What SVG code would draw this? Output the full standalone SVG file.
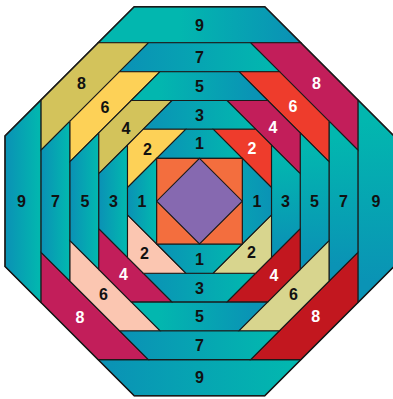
<svg xmlns="http://www.w3.org/2000/svg" width="393" height="399" viewBox="0 0 393 399">
<style>
.p{stroke:#1a1a1a;stroke-width:1.1;stroke-linejoin:miter}
.t{font-family:"Liberation Sans",Arial,sans-serif;font-weight:bold;font-size:16px;text-anchor:middle;fill:#111}
.w{fill:#fff}
.yel{fill:#fdd157}.olv{fill:#d3c35b}.org{fill:#ee3c2c}.mag{fill:#c21e5a}
.pch{fill:#fbc6b1}.lol{fill:#d8d58e}.red{fill:#c2171f}
</style>
<defs>
<linearGradient id="gLR" x1="0" y1="0" x2="1" y2="0"><stop offset="0.05" stop-color="#0a93b5"/><stop offset="0.95" stop-color="#02b7af"/></linearGradient>
<linearGradient id="gRL" x1="0" y1="0" x2="1" y2="0"><stop offset="0.2" stop-color="#02b7af"/><stop offset="0.9" stop-color="#0a93b5"/></linearGradient>
<linearGradient id="g9t" x1="0" y1="0" x2="1" y2="0"><stop offset="0.4" stop-color="#02b7af"/><stop offset="0.95" stop-color="#0a93b5"/></linearGradient>
<linearGradient id="gTB" x1="0" y1="0" x2="0" y2="1"><stop offset="0.1" stop-color="#02b7af"/><stop offset="0.9" stop-color="#0a93b5"/></linearGradient>
<linearGradient id="gDk" x1="0" y1="0" x2="1" y2="0"><stop offset="0" stop-color="#089fb4"/><stop offset="1" stop-color="#0a93b5"/></linearGradient>
</defs>

<g id="band-9">
<polygon class="p" fill="url(#g9t)" points="98.1,42.8 300.9,42.8 264.8,6.7 134.2,6.7"/>
<polygon class="p" fill="url(#gLR)" points="98.1,359.6 300.9,359.6 264.8,395.7 134.2,395.7"/>
<polygon class="p" fill="url(#gLR)" points="41.1,99.8 41.1,302.6 5,266.5 5,135.9"/>
<polygon class="p" fill="url(#gTB)" points="357.9,99.8 357.9,302.6 394,266.5 394,135.9"/>
</g>
<g id="band-8">
<polygon class="p olv" points="148.4,42.8 98.1,42.8 41.1,99.8 41.1,150.1"/>
<polygon class="p mag" points="250.6,42.8 300.9,42.8 357.9,99.8 357.9,150.1"/>
<polygon class="p mag" points="148.4,359.6 98.1,359.6 41.1,302.6 41.1,252.3"/>
<polygon class="p red" points="250.6,359.6 300.9,359.6 357.9,302.6 357.9,252.3"/>
</g>
<g id="band-7">
<polygon class="p" fill="url(#gLR)" points="119.5,71.7 279.5,71.7 250.6,42.8 148.4,42.8"/>
<polygon class="p" fill="url(#gLR)" points="119.5,330.7 279.5,330.7 250.6,359.6 148.4,359.6"/>
<polygon class="p" fill="url(#gLR)" points="70,121.2 70,281.2 41.1,252.3 41.1,150.1"/>
<polygon class="p" fill="url(#gTB)" points="329,121.2 329,281.2 357.9,252.3 357.9,150.1"/>
</g>
<g id="band-6">
<polygon class="p yel" points="160,71.7 119.5,71.7 70,121.2 70,161.7"/>
<polygon class="p org" points="239,71.7 279.5,71.7 329,121.2 329,161.7"/>
<polygon class="p pch" points="160,330.7 119.5,330.7 70,281.2 70,240.7"/>
<polygon class="p lol" points="239,330.7 279.5,330.7 329,281.2 329,240.7"/>
</g>
<g id="band-5">
<polygon class="p" fill="url(#gRL)" points="131.2,100.5 267.8,100.5 239,71.7 160,71.7"/>
<polygon class="p" fill="url(#gRL)" points="131.2,301.9 267.8,301.9 239,330.7 160,330.7"/>
<polygon class="p" fill="url(#gLR)" points="98.8,132.9 98.8,269.5 70,240.7 70,161.7"/>
<polygon class="p" fill="url(#gTB)" points="300.2,132.9 300.2,269.5 329,240.7 329,161.7"/>
</g>
<g id="band-4">
<polygon class="p olv" points="172,100.5 131.2,100.5 98.8,132.9 98.8,173.7"/>
<polygon class="p mag" points="227,100.5 267.8,100.5 300.2,132.9 300.2,173.7"/>
<polygon class="p mag" points="172,301.9 131.2,301.9 98.8,269.5 98.8,228.7"/>
<polygon class="p red" points="227,301.9 267.8,301.9 300.2,269.5 300.2,228.7"/>
</g>
<g id="band-3">
<polygon class="p" fill="url(#gLR)" points="143.3,129.2 255.7,129.2 227,100.5 172,100.5"/>
<polygon class="p" fill="url(#gLR)" points="143.3,273.2 255.7,273.2 227,301.9 172,301.9"/>
<polygon class="p" fill="url(#gLR)" points="127.5,145 127.5,257.4 98.8,228.7 98.8,173.7"/>
<polygon class="p" fill="url(#gTB)" points="271.5,145 271.5,257.4 300.2,228.7 300.2,173.7"/>
</g>
<g id="band-2">
<polygon class="p yel" points="185.9,129.2 143.3,129.2 127.5,145 127.5,187.6"/>
<polygon class="p org" points="213.1,129.2 255.7,129.2 271.5,145 271.5,187.6"/>
<polygon class="p pch" points="185.9,273.2 143.3,273.2 127.5,257.4 127.5,214.8"/>
<polygon class="p lol" points="213.1,273.2 255.7,273.2 271.5,257.4 271.5,214.8"/>
</g>
<g id="band-1">
<polygon class="p" fill="url(#gLR)" points="156.7,158.4 242.3,158.4 213.1,129.2 185.9,129.2"/>
<polygon class="p" fill="url(#gLR)" points="156.7,244 242.3,244 213.1,273.2 185.9,273.2"/>
<polygon class="p" fill="url(#gLR)" points="156.7,158.4 156.7,244 127.5,214.8 127.5,187.6"/>
<polygon class="p" fill="url(#gDk)" points="242.3,158.4 242.3,244 271.5,214.8 271.5,187.6"/>
</g>
<g id="center">
<rect class="p" x="156.7" y="158.4" width="85.6" height="85.6" fill="#f36e3e"/>
<polygon class="p" fill="#8669b0" points="199.5,158.4 242.3,201.2 199.5,244 156.7,201.2"/>
</g>
<polygon id="outline" fill="none" stroke="#1a1a1a" stroke-width="1.4" points="134.2,6.7 264.8,6.7 394,135.9 394,266.5 264.8,395.7 134.2,395.7 5,266.5 5,135.9"/>

<g id="labels">
<text class="t" x="199.5" y="30.5">9</text>
<text class="t" x="199.5" y="62.7">7</text>
<text class="t" x="199.5" y="91.7">5</text>
<text class="t" x="199.5" y="120.5">3</text>
<text class="t" x="199.5" y="149">1</text>
<text class="t" x="199.5" y="264.5">1</text>
<text class="t" x="199.5" y="293.5">3</text>
<text class="t" x="199.5" y="322">5</text>
<text class="t" x="199.5" y="351">7</text>
<text class="t" x="199.5" y="383">9</text>
<text class="t" x="21.5" y="207">9</text>
<text class="t" x="55.5" y="207">7</text>
<text class="t" x="85" y="207">5</text>
<text class="t" x="113.5" y="207">3</text>
<text class="t" x="142" y="207">1</text>
<text class="t" x="257" y="207">1</text>
<text class="t" x="285.5" y="207">3</text>
<text class="t" x="314.5" y="207">5</text>
<text class="t" x="343.5" y="207">7</text>
<text class="t" x="376" y="207">9</text>
<text class="t" x="147.5" y="154.5">2</text>
<text class="t" x="126" y="133.5">4</text>
<text class="t" x="105" y="112.7">6</text>
<text class="t" x="81.5" y="89">8</text>
<text class="t w" x="252" y="154">2</text>
<text class="t w" x="273" y="133">4</text>
<text class="t w" x="293" y="112">6</text>
<text class="t w" x="316.5" y="89">8</text>
<text class="t" x="144.5" y="258.7">2</text>
<text class="t w" x="123.5" y="279.5">4</text>
<text class="t" x="103.5" y="300">6</text>
<text class="t w" x="80" y="323">8</text>
<text class="t" x="251.5" y="258">2</text>
<text class="t w" x="274" y="280.5">4</text>
<text class="t" x="293.5" y="300.2">6</text>
<text class="t w" x="315.7" y="322">8</text>
</g>
</svg>
